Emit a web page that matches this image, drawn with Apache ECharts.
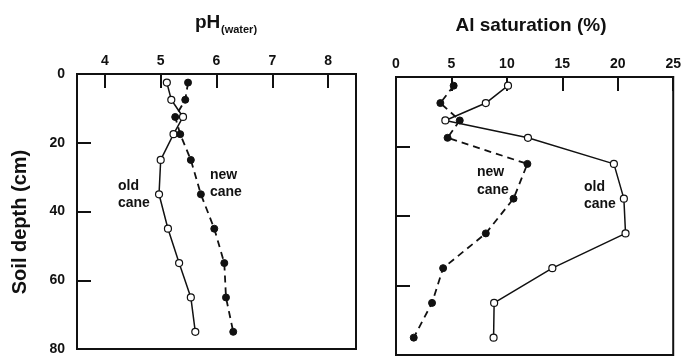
<!DOCTYPE html>
<html>
<head>
<meta charset="utf-8">
<script src="https://cdn.jsdelivr.net/npm/echarts@6/dist/echarts.min.js"></script>
<style>
  html, body { margin: 0; padding: 0; background: #fff; }
  #chart { width: 684px; height: 356px; }
</style>
</head>
<body>
<div id="chart"></div>
<script>
// ---- data ----
const depthCm = [2.5, 7.5, 12.5, 17.5, 25, 35, 45, 55, 65, 75];
const phOldCane = [5.11, 5.19, 5.40, 5.23, 5.00, 4.97, 5.13, 5.33, 5.54, 5.62];
const phNewCane = [5.49, 5.44, 5.26, 5.35, 5.54, 5.72, 5.96, 6.14, 6.17, 6.30];
const alOldCane = [10.1, 8.1, 4.45, 11.9, 19.65, 20.55, 20.7, 14.1, 8.85, 8.8];
const alNewCane = [5.2, 4.0, 5.75, 4.65, 11.85, 10.6, 8.1, 4.25, 3.25, 1.6];
const phTicks = [4, 5, 6, 7, 8];
const depthTicks = [0, 20, 40, 60, 80];

const FONT = '"Liberation Sans", Arial, sans-serif';
const INK = '#111';

function pairs(xs) { return xs.map((v, i) => [v, depthCm[i]]); }

const oldStyle = {
  type: 'line', symbol: 'circle', symbolSize: 7,
  lineStyle: { color: INK, width: 1.5, type: 'solid' },
  itemStyle: { color: '#fff', borderColor: INK, borderWidth: 1.2 },
  z: 3
};
const newStyle = {
  type: 'line', symbol: 'circle', symbolSize: 7,
  lineStyle: { color: INK, width: 1.8, type: [7, 5] },
  itemStyle: { color: INK, borderColor: INK, borderWidth: 1 },
  z: 3
};

const tickCommon = { inside: true, length: 14, lineStyle: { color: INK, width: 2 } };
const lineCommon = { show: true, onZero: false, lineStyle: { color: INK, width: 2 } };
const labelFont = { color: INK, fontFamily: FONT, fontWeight: 'bold', fontSize: 14 };

const chart = echarts.init(document.getElementById('chart'), null, { renderer: 'canvas' });
chart.setOption({
  animation: false,
  backgroundColor: '#fff',
  grid: [
    { left: 77, top: 74, width: 279, height: 278, show: true, borderColor: INK, borderWidth: 2, backgroundColor: 'transparent' },
    { left: 396, top: 77, width: 278, height: 278, show: true, borderColor: INK, borderWidth: 2, backgroundColor: 'transparent' }
  ],
  xAxis: [
    { gridIndex: 0, type: 'value', position: 'top', min: 3.5, max: 8.5,
      axisLine: lineCommon,
      axisTick: Object.assign({ customValues: phTicks }, tickCommon),
      axisLabel: Object.assign({ customValues: phTicks, margin: 6 }, labelFont),
      splitLine: { show: false } },
    { gridIndex: 1, type: 'value', position: 'top', min: 0, max: 25, interval: 5,
      axisLine: lineCommon,
      axisTick: tickCommon,
      axisLabel: Object.assign({ margin: 6 }, labelFont),
      splitLine: { show: false } }
  ],
  yAxis: [
    { gridIndex: 0, type: 'value', inverse: true, min: 0, max: 80, interval: 20,
      axisLine: lineCommon,
      axisTick: tickCommon,
      axisLabel: Object.assign({ margin: 12, customValues: depthTicks }, labelFont),
      splitLine: { show: false } },
    { gridIndex: 1, type: 'value', inverse: true, min: 0, max: 80, interval: 20,
      axisLine: lineCommon,
      axisTick: tickCommon,
      axisLabel: { show: false },
      splitLine: { show: false } }
  ],
  series: [
    Object.assign({ name: 'pH old cane', xAxisIndex: 0, yAxisIndex: 0, data: pairs(phOldCane) }, oldStyle),
    Object.assign({ name: 'pH new cane', xAxisIndex: 0, yAxisIndex: 0, data: pairs(phNewCane) }, newStyle),
    Object.assign({ name: 'Al old cane', xAxisIndex: 1, yAxisIndex: 1, data: pairs(alOldCane) }, oldStyle),
    Object.assign({ name: 'Al new cane', xAxisIndex: 1, yAxisIndex: 1, data: pairs(alNewCane) }, newStyle)
  ],
  graphic: [
    { type: 'text', left: 195, top: 13, style: { text: 'pH', fill: INK, font: 'bold 19px ' + FONT } },
    { type: 'text', left: 221, top: 24, style: { text: '(water)', fill: INK, font: 'bold 11px ' + FONT } },
    { type: 'text', x: 531, y: 26, style: { text: 'Al saturation (%)', fill: INK, font: 'bold 19px ' + FONT, align: 'center', verticalAlign: 'middle' } },
    { type: 'text', x: 20, y: 222, rotation: Math.PI / 2, style: { text: 'Soil depth (cm)', fill: INK, font: 'bold 20px ' + FONT, align: 'center', verticalAlign: 'middle' } },
    { type: 'text', x: 118, y: 194.5, style: { text: 'old\ncane', fill: INK, font: 'bold 14px ' + FONT, lineHeight: 17, align: 'left', verticalAlign: 'middle' } },
    { type: 'text', x: 210, y: 183.5, style: { text: 'new\ncane', fill: INK, font: 'bold 14px ' + FONT, lineHeight: 17, align: 'left', verticalAlign: 'middle' } },
    { type: 'text', x: 477, y: 181, style: { text: 'new\ncane', fill: INK, font: 'bold 14px ' + FONT, lineHeight: 18, align: 'left', verticalAlign: 'middle' } },
    { type: 'text', x: 584, y: 195.5, style: { text: 'old\ncane', fill: INK, font: 'bold 14px ' + FONT, lineHeight: 17, align: 'left', verticalAlign: 'middle' } }
  ]
});
</script>
</body>
</html>
